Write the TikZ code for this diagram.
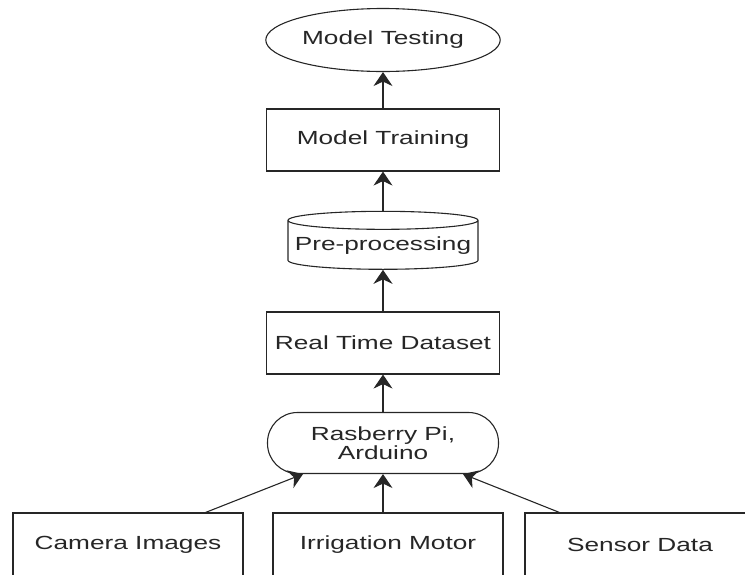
\documentclass[tikz,border=0pt]{standalone}
\usepackage{fontspec}
\setmainfont{Liberation Sans}[FakeStretch=1.38]
\usetikzlibrary{arrows.meta, shapes.geometric}
\tikzset{
    flownode/.style = {align=center, inner sep=2pt, text centered, text=black!85, draw=black!85, line width=1.1pt,
                       font=\fontsize{19pt}{19pt}\selectfont},
    node_box/.style = {flownode, rectangle, minimum width=233pt, minimum height=62pt},
    node_oval/.style = {flownode, ellipse, minimum width=231pt, minimum height=63pt},
    node_db/.style = {flownode, cylinder, shape border rotate=90, aspect=0.1, minimum width=190pt, minimum height=58pt},
    node_round/.style = {flownode, rectangle, rounded corners=30pt, minimum width=231pt, minimum height=61pt},
    node_input/.style = {flownode, rectangle, minimum width=230pt, minimum height=64pt},
    link/.style = {->, draw=black!85, line width=1.1pt}
}
\begin{document}
\begin{tikzpicture}[x=1pt, y=-1pt, >={Stealth[length=14pt, width=19pt, inset=4.5pt]}]
    \useasboundingbox (0,0) rectangle (745,574);
    % processing chain
    \node [node_oval] (test) at (383,40) {Model Testing};
    \node [node_box] (train) at (383,140) {Model Training};
    \node [node_db] (prep) at (383,246) {Pre-processing};
    \node [node_box] (dataset) at (383,343) {Real Time Dataset};
    \node [node_round] (board) at (383,443) {Rasberry Pi,\\Arduino};
    % inputs
    \node [node_input] (camera) at (128,545) {Camera Images};
    \node [node_input] (motor) at (388,545) {Irrigation Motor};
    \node [node_input] (sensor) at (640,545) {Sensor Data};

    \draw [link] (train) -- (test);
    \draw [link] (prep) -- (train);
    \draw [link] (dataset) -- (prep);
    \draw [link] (board) -- (dataset);
    \draw [link] ([xshift=-38pt]camera.north east) -- ([xshift=-80pt]board.south);
    \draw [link] (board.south |- motor.north) -- (board.south);
    \draw [link] ([xshift=35pt]sensor.north west) -- ([xshift=80pt]board.south);
\end{tikzpicture}
\end{document}
